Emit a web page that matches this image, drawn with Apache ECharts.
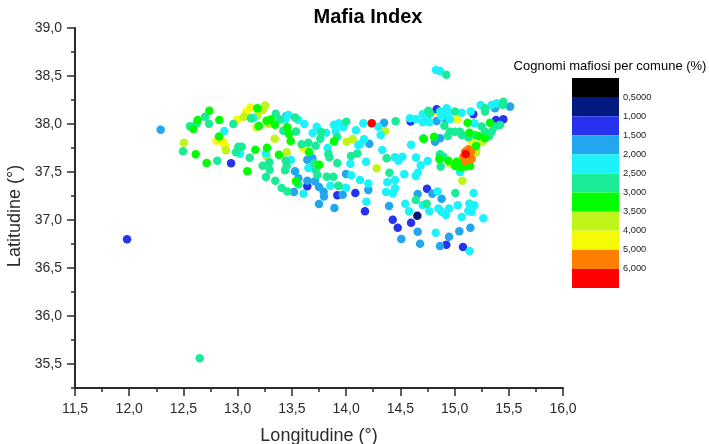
<!DOCTYPE html>
<html><head><meta charset="utf-8">
<style>html,body{margin:0;padding:0;background:#fff}#c{width:709px;height:444px}</style>
<script src="https://cdn.jsdelivr.net/npm/echarts@6/dist/echarts.min.js"></script></head>
<body><div id="c"></div>
<script>
const title = "Mafia Index";
const legendTitle = "Cognomi mafiosi per comune (%)";
const legendLabels = ["0,5000","1,000","1,500","2,000","2,500","3,000","3,500","4,000","5,000","6,000"];
const bandColors = ["#000000","#001a80","#2632ee","#22a7ee","#1cf2fb","#1aeb96","#00ff00","#bff51a","#f5fa05","#ff8000","#ff0000"];
const drawOrder = [8,7,0,1,2,3,4,5,6,9,10];
const band0 = [];
const band1 = [[14.657,37.045]];
const band2 = [[11.98,36.80],[12.939,37.59],[13.642,37.351],[13.919,37.257],[14.085,37.281],[14.174,37.09],[14.595,38.025],[14.835,38.153],[15.173,38.101],[15.382,38.042],[15.45,38.049],[14.746,37.326],[14.43,37.003],[14.476,36.92],[14.599,36.972],[14.924,36.743],[15.078,36.719]];
const band3 = [[12.29,37.94],[13.449,38.083],[13.529,37.507],[13.56,37.434],[13.642,37.41],[13.713,37.403],[13.642,37.628],[13.689,37.642],[13.75,37.344],[13.793,37.295],[13.796,37.246],[13.519,37.292],[13.75,37.167],[13.892,37.125],[13.968,37.264],[13.999,37.479],[14.35,38.014],[14.214,37.795],[14.82,37.816],[14.866,37.851],[14.835,38.032],[14.918,38.049],[15.512,38.181],[15.373,38.163],[14.205,37.313],[14.66,37.271],[14.396,37.146],[14.795,37.274],[14.881,37.222],[14.66,36.878],[14.509,36.802],[14.682,36.753],[14.866,36.729],[14.949,36.826],[15.044,36.882],[15.146,36.92]];
const band4 = [[12.877,37.927],[13.022,37.691],[13.145,38.059],[13.261,37.694],[13.492,37.625],[13.467,38.094],[13.437,38.048],[13.56,38.041],[13.615,38.0],[13.729,37.972],[13.692,37.906],[13.815,37.91],[13.888,37.993],[13.935,38.007],[13.975,37.965],[13.904,37.927],[14.091,37.934],[13.83,37.75],[13.652,37.541],[14.048,37.465],[14.039,37.587],[14.113,37.781],[14.128,37.417],[13.855,37.358],[13.999,37.337],[13.606,37.274],[14.829,38.563],[14.866,38.552],[14.159,38.007],[14.297,37.972],[14.319,37.886],[14.165,37.841],[14.128,37.789],[14.334,37.729],[14.599,37.785],[14.645,37.65],[14.752,37.615],[14.688,37.57],[14.642,37.459],[14.66,37.493],[14.451,37.653],[14.519,37.66],[14.482,37.618],[14.537,37.476],[14.205,37.379],[14.451,37.417],[14.38,37.393],[14.589,38.059],[14.642,38.052],[14.706,38.101],[14.706,38.018],[14.768,38.018],[14.749,38.07],[14.866,38.129],[14.927,38.163],[14.897,38.105],[14.943,38.122],[14.881,38.077],[14.958,38.049],[15.066,38.118],[15.149,38.129],[15.183,38.007],[15.241,38.198],[15.342,38.198],[15.389,38.216],[15.05,37.5],[14.368,37.292],[14.43,37.278],[14.451,37.33],[14.546,37.17],[14.58,37.09],[14.768,37.09],[14.706,37.156],[14.844,37.298],[14.851,37.121],[14.881,37.087],[14.921,37.052],[14.949,37.121],[15.029,37.153],[15.066,37.031],[15.137,37.173],[15.183,37.153],[15.127,37.097],[15.158,37.087],[15.176,37.281],[15.266,37.017],[14.826,36.868],[15.139,36.677],[14.187,37.191],[14.184,37.607]];
const band5 = [[12.65,35.56],[12.56,37.976],[12.699,38.076],[12.736,38.003],[12.622,38.007],[12.496,37.715],[12.812,37.618],[12.96,38.0],[13.123,38.059],[13.351,38.107],[13.39,38.048],[13.529,38.069],[13.421,37.93],[13.538,37.923],[13.59,37.788],[13.652,37.805],[13.719,37.774],[13.762,37.847],[13.769,37.916],[13.916,37.868],[14.002,38.024],[13.836,37.687],[13.845,37.653],[13.919,37.594],[14.045,37.667],[14.104,37.694],[13.006,37.764],[13.037,37.764],[12.985,37.705],[13.111,37.649],[13.231,37.566],[13.292,37.601],[13.295,37.524],[13.261,37.448],[13.347,37.41],[13.406,37.333],[13.458,37.298],[13.443,37.618],[13.452,37.562],[13.437,37.517],[13.704,37.59],[13.719,37.521],[13.735,37.469],[13.821,37.451],[13.882,37.451],[13.931,37.354],[13.56,37.371],[14.924,38.514],[14.457,38.028],[14.712,37.851],[14.937,37.875],[14.958,37.92],[15.004,37.92],[15.05,37.92],[15.066,37.886],[15.127,37.862],[15.189,37.886],[14.866,37.684],[14.897,37.66],[14.872,37.556],[14.906,37.983],[15.004,38.129],[14.758,38.139],[14.774,38.111],[15.281,38.163],[15.281,38.129],[15.25,37.973],[15.281,37.92],[15.342,37.92],[15.373,37.973],[15.419,37.99],[15.45,38.233],[15.444,38.198],[14.399,37.493],[14.374,37.643],[15.321,37.875],[15.275,37.862],[14.642,37.208],[14.743,37.17],[15.007,37.281],[13.928,37.358]];
const band6 = [[12.739,38.139],[12.631,38.041],[12.591,37.948],[12.831,38.041],[12.828,37.871],[12.613,37.684],[12.714,37.594],[13.089,37.507],[13.163,37.732],[13.271,37.753],[13.381,37.68],[13.181,38.163],[13.197,37.979],[13.267,38.035],[13.304,38.048],[13.344,37.993],[13.458,37.965],[13.473,37.896],[13.489,37.823],[13.658,37.708],[13.753,37.576],[13.888,37.819],[13.538,37.403],[15.121,38.014],[15.137,37.91],[15.327,38.014],[15.281,37.851],[15.22,37.875],[14.811,37.868],[14.718,37.844],[14.943,37.618],[14.86,37.632],[15.02,37.608],[15.004,37.563],[15.05,37.549],[15.096,37.556],[15.143,37.563],[15.035,37.59],[15.127,37.59],[15.198,37.771]];
const band7 = [[12.505,37.805],[12.892,37.726],[13.058,38.076],[13.181,38.087],[13.231,38.146],[13.252,38.194],[13.175,37.965],[13.283,38.0],[13.341,37.847],[13.267,37.663],[13.452,37.705],[14.005,37.816],[14.061,37.844],[14.359,37.927],[14.282,37.539],[15.072,37.41],[15.256,37.816],[15.198,37.702],[14.958,37.59]];
const band8 = [[13.117,38.173],[13.08,38.128],[12.997,38.048],[12.806,37.826],[12.868,37.809],[12.883,37.771],[13.606,37.746],[15.026,38.049],[14.829,38.126],[15.164,37.806],[15.198,37.747],[15.112,37.886]];
const band9 = [[15.127,37.736],[15.152,37.712],[15.097,37.712],[15.081,37.66],[15.097,37.615],[15.158,37.636],[15.127,37.677]];
const band10 = [[14.236,38.007],[15.103,37.688]];
const bands = [band0,band1,band2,band3,band4,band5,band6,band7,band8,band9,band10];
const latMajor = [35.5,36,36.5,37,37.5,38,38.5,39];
const latMinor = [35.25,35.75,36.25,36.75,37.25,37.75,38.25,38.75];
const font = "Liberation Sans";
const comma = v => v.toFixed(1).replace(".", ",");
const ink = "#2b2b2b";
const scatter = bands.map((d,i)=>({type:"scatter",name:"band"+i,xAxisIndex:0,yAxisIndex:0,data:d,symbolSize:8.5,
  itemStyle:{color:bandColors[i],opacity:1},silent:true,animation:false,z:2+drawOrder.indexOf(i)}));
const legendBars = bandColors.map(c=>({type:"bar",xAxisIndex:1,yAxisIndex:2,stack:"k",data:[[0,1]],barWidth:"100%",
  itemStyle:{color:c},silent:true,animation:false}));
const chart = echarts.init(document.getElementById("c"),null,{renderer:"canvas"});
chart.setOption({
  backgroundColor:"#fff",animation:false,
  title:[{text:title,left:363,top:2,textAlign:"center",textStyle:{fontFamily:font,fontSize:20,fontWeight:"bold",color:"#000"}},
         {text:legendTitle,left:605,top:55,textAlign:"center",textStyle:{fontFamily:font,fontSize:13,fontWeight:"normal",color:"#000"}}],
  grid:[{left:75,top:28,width:488,height:360,outerBoundsMode:"none"},{left:572,top:78,width:47,height:210,outerBoundsMode:"none"}],
  xAxis:[{type:"value",gridIndex:0,min:11.5,max:16,interval:0.5,name:"Longitudine (°)",nameLocation:"middle",nameGap:39,
    nameTextStyle:{fontFamily:font,fontSize:18,color:ink},splitLine:{show:false},
    axisLine:{onZero:false,lineStyle:{color:ink,width:2}},axisTick:{length:8,inside:false,lineStyle:{color:ink,width:1.5}},
    minorTick:{show:true,splitNumber:2,length:4,lineStyle:{color:ink,width:1.5}},minorSplitLine:{show:false},
    axisLabel:{margin:14,fontFamily:font,fontSize:14,color:ink,formatter:v=>comma(v)}},
   {type:"category",gridIndex:1,data:[0],show:false}],
  yAxis:[{type:"value",gridIndex:0,min:35.25,max:39,name:"Latitudine (°)",nameLocation:"middle",nameGap:46,
    nameTextStyle:{fontFamily:font,fontSize:18,color:ink,padding:[0,16,0,0]},splitLine:{show:false},
    axisLine:{onZero:false,lineStyle:{color:ink,width:2}},axisTick:{length:8,customValues:latMajor,lineStyle:{color:ink,width:1.5}},
    axisLabel:{margin:13,fontFamily:font,fontSize:14,color:ink,customValues:latMajor,formatter:v=>comma(v)}},
   {type:"value",gridIndex:0,min:35.25,max:39,position:"left",splitLine:{show:false},
    axisLine:{show:false},axisTick:{length:4,customValues:latMinor,lineStyle:{color:ink,width:1.5}},
    axisLabel:{show:false,customValues:latMinor}},
   {type:"value",gridIndex:1,min:0,max:11,interval:1,inverse:true,position:"right",splitLine:{show:false},
    axisLine:{show:false},axisTick:{show:false},
    axisLabel:{margin:4,fontFamily:font,fontSize:9.3,color:"#222",formatter:v=>legendLabels[v-1]||""}}],
  series:scatter.concat(legendBars)
});
</script></body></html>
